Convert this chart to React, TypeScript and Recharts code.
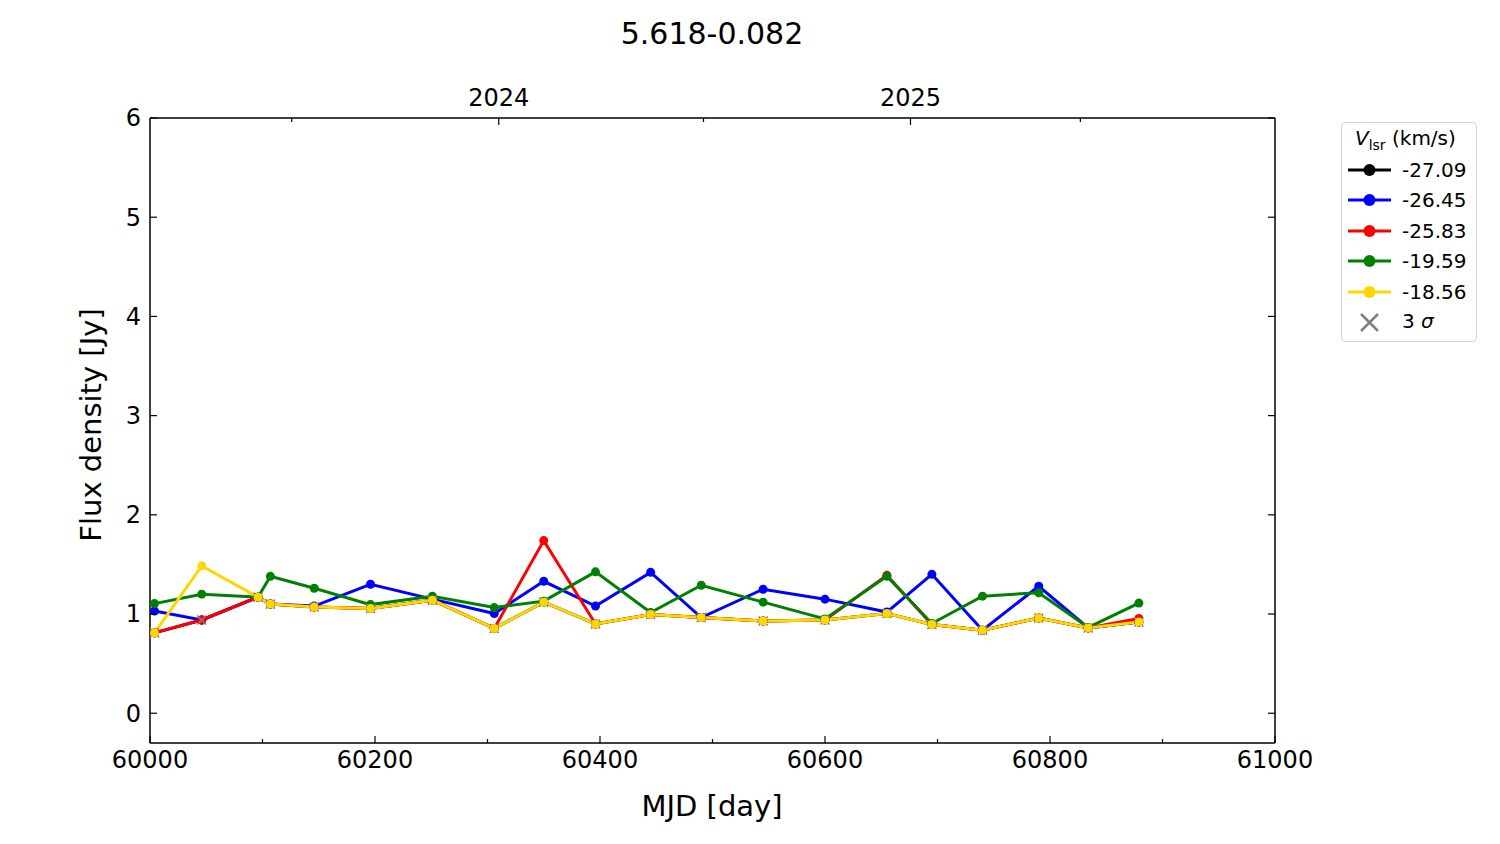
import { ComposedChart, Line, XAxis, YAxis, Legend } from 'recharts';

const FONT = '"DejaVu Sans", sans-serif';

// observation epochs (MJD)
const mjd = [60004, 60046, 60096, 60107, 60146, 60196, 60251, 60306, 60350, 60396, 60445, 60490, 60545, 60600, 60655, 60695, 60740, 60790, 60834, 60879];

// 3 sigma level per epoch
const sigma3 = [0.81, 0.94, 1.17, 1.1, 1.07, 1.055, 1.14, 0.855, 1.12, 0.9, 0.995, 0.965, 0.93, 0.94, 1.005, 0.895, 0.837, 0.96, 0.86, 0.92];

// flux density per velocity channel (Jy)
const f2709 = [0.81, 0.94, 1.17, 1.1, 1.07, 1.055, 1.14, 0.855, 1.12, 0.9, 0.995, 0.965, 0.93, 0.94, 1.005, 0.895, 0.837, 0.96, 0.86, 0.92];
const f2645 = [1.03, 0.94, 1.17, 1.1, 1.08, 1.3, 1.15, 1.005, 1.33, 1.08, 1.42, 0.965, 1.25, 1.15, 1.02, 1.4, 0.837, 1.28, 0.86, 0.92];
const f2583 = [0.81, 0.94, 1.17, 1.1, 1.07, 1.055, 1.14, 0.855, 1.74, 0.9, 0.995, 0.965, 0.93, 0.94, 1.39, 0.895, 0.837, 0.96, 0.86, 0.955];
const f1959 = [1.105, 1.2, 1.17, 1.38, 1.26, 1.095, 1.18, 1.065, 1.13, 1.425, 1.015, 1.29, 1.12, 0.95, 1.38, 0.905, 1.18, 1.215, 0.865, 1.11];
const f1856 = [0.81, 1.485, 1.17, 1.1, 1.07, 1.055, 1.14, 0.855, 1.12, 0.9, 0.995, 0.965, 0.93, 0.94, 1.005, 0.895, 0.837, 0.96, 0.86, 0.92];

const velocities = ['-27.09', '-26.45', '-25.83', '-19.59', '-18.56'];
const colors = ['#000000', '#0000ff', '#ff0000', '#008000', '#ffd700'];
const seriesKeys = ['v0', 'v1', 'v2', 'v3', 'v4'];

// axis ticks
const majorX = [60000, 60200, 60400, 60600, 60800, 61000];
const minorX = [60100, 60300, 60500, 60700, 60900];
const yearTicks = [60310, 60676];
const yearLabels = ['2024', '2025'];
const minorYearTicks = [60126, 60492, 60827];
const yTicks = [0, 1, 2, 3, 4, 5, 6];

const rows = mjd.map((m, i) => ({
  mjd: m,
  v0: f2709[i],
  v1: f2645[i],
  v2: f2583[i],
  v3: f1959[i],
  v4: f1856[i],
  lim: sigma3[i],
}));

const XMark = (props: any) => {
  const { cx, cy } = props;
  if (cx == null || cy == null) return null;
  const s = 4.5;
  return (
    <path
      d={`M${cx - s},${cy - s}L${cx + s},${cy + s}M${cx - s},${cy + s}L${cx + s},${cy - s}`}
      stroke="#808080"
      strokeWidth={1.5}
      fill="none"
    />
  );
};

const BottomTick = (props: any) => {
  const { x, y, payload } = props;
  const major = majorX.includes(payload.value);
  return (
    <g>
      <line x1={x} x2={x} y1={y} y2={y - (major ? 7 : 4)} stroke="#000" strokeWidth={1.2} />
      {major && (
        <text x={x} y={y + 25} textAnchor="middle" fontSize={24} fontFamily={FONT} fill="#000">
          {payload.value}
        </text>
      )}
    </g>
  );
};

const TopTick = (props: any) => {
  const { x, y, payload } = props;
  const idx = yearTicks.indexOf(payload.value);
  const major = idx >= 0;
  return (
    <g>
      <line x1={x} x2={x} y1={y} y2={y + (major ? 7 : 4)} stroke="#000" strokeWidth={1.2} />
      {major && (
        <text x={x} y={y - 12} textAnchor="middle" fontSize={24} fontFamily={FONT} fill="#000">
          {yearLabels[idx]}
        </text>
      )}
    </g>
  );
};

const LeftTick = (props: any) => {
  const { x, y, payload } = props;
  return (
    <g>
      <line x1={x} x2={x + 7} y1={y} y2={y} stroke="#000" strokeWidth={1.2} />
      <text x={x - 9} y={y} dy="0.35em" textAnchor="end" fontSize={24} fontFamily={FONT} fill="#000">
        {payload.value}
      </text>
    </g>
  );
};

const RightTick = (props: any) => {
  const { x, y } = props;
  return <line x1={x} x2={x - 7} y1={y} y2={y} stroke="#000" strokeWidth={1.2} />;
};

const LegendBox = () => {
  const rowY = [47, 77, 108, 138, 169];
  return (
    <div
      style={{
        width: 136,
        height: 220,
        border: '1.5px solid #d4d4d4',
        borderRadius: 4,
        background: '#fff',
        boxSizing: 'border-box',
      }}
    >
      <svg width={134} height={218} style={{ display: 'block' }}>
        <text x={13} y={22} fontSize={20} fontFamily={FONT} fill="#000">
          <tspan fontStyle="italic">V</tspan>
          <tspan fontSize={14} dy={5}>lsr</tspan>
          <tspan dy={-5}> (km/s)</tspan>
        </text>
        {velocities.map((v, i) => (
          <g key={v}>
            <line x1={6} x2={49} y1={rowY[i]} y2={rowY[i]} stroke={colors[i]} strokeWidth={3} />
            <circle cx={27.5} cy={rowY[i]} r={6} fill={colors[i]} />
            <text x={60} y={rowY[i]} dy="0.35em" fontSize={20} fontFamily={FONT} fill="#000">
              {v}
            </text>
          </g>
        ))}
        <path d="M19,191L36,208M19,208L36,191" stroke="#808080" strokeWidth={2.5} />
        <text x={60} y={198} dy="0.35em" fontSize={20} fontFamily={FONT} fill="#000">
          3 <tspan fontStyle="italic">σ</tspan>
        </text>
      </svg>
    </div>
  );
};

export default function App() {
  return (
    <div style={{ position: 'absolute', left: 0, top: 0, width: 1500, height: 844, background: '#fff' }}>
      <ComposedChart
        width={1500}
        height={844}
        data={rows}
        margin={{ top: 78, right: 215, left: 80, bottom: 41 }}
      >
        <XAxis
          dataKey="mjd"
          type="number"
          domain={[60000, 61000]}
          allowDataOverflow
          ticks={[...majorX, ...minorX].sort((a, b) => a - b)}
          interval={0}
          height={60}
          tickSize={0}
          tickMargin={0}
          tickLine={false}
          tick={<BottomTick />}
          axisLine={{ stroke: '#000', strokeWidth: 1.5 }}
        />
        <XAxis
          xAxisId="top"
          dataKey="mjd"
          orientation="top"
          type="number"
          domain={[60000, 61000]}
          allowDataOverflow
          ticks={[...minorYearTicks, ...yearTicks].sort((a, b) => a - b)}
          interval={0}
          height={40}
          tickSize={0}
          tickMargin={0}
          tickLine={false}
          tick={<TopTick />}
          axisLine={{ stroke: '#000', strokeWidth: 1.5 }}
        />
        <YAxis
          type="number"
          domain={[-0.3, 6]}
          allowDataOverflow
          ticks={yTicks}
          interval={0}
          width={70}
          tickSize={0}
          tickMargin={0}
          tickLine={false}
          tick={<LeftTick />}
          axisLine={{ stroke: '#000', strokeWidth: 1.5 }}
        />
        <YAxis
          yAxisId="right"
          orientation="right"
          type="number"
          domain={[-0.3, 6]}
          allowDataOverflow
          ticks={yTicks}
          interval={0}
          width={10}
          tickSize={0}
          tickMargin={0}
          tickLine={false}
          tick={<RightTick />}
          axisLine={{ stroke: '#000', strokeWidth: 1.5 }}
        />
        {seriesKeys.slice(0, 4).map((k, i) => (
          <Line
            key={k}
            dataKey={k}
            stroke={colors[i]}
            strokeWidth={3}
            dot={{ r: 4.5, fill: colors[i], stroke: colors[i], strokeWidth: 0 }}
            activeDot={false}
            isAnimationActive={false}
            type="linear"
          />
        ))}
        <Line
          dataKey="lim"
          stroke="none"
          dot={<XMark />}
          activeDot={false}
          isAnimationActive={false}
          legendType="none"
        />
        <Line
          dataKey="v4"
          stroke={colors[4]}
          strokeWidth={3}
          dot={{ r: 4.5, fill: colors[4], stroke: colors[4], strokeWidth: 0 }}
          activeDot={false}
          isAnimationActive={false}
          type="linear"
        />
        <Legend
          layout="vertical"
          align="center"
          verticalAlign="middle"
          content={<LegendBox />}
          wrapperStyle={{ left: 1341, top: 122, width: 136, height: 220 }}
        />
      </ComposedChart>
      <svg
        width={1500}
        height={844}
        style={{ position: 'absolute', left: 0, top: 0, pointerEvents: 'none' }}
      >
        <text x={712} y={44} textAnchor="middle" fontSize={30} fontFamily={FONT} fill="#000">
          5.618-0.082
        </text>
        <text x={712} y={816} textAnchor="middle" fontSize={29} fontFamily={FONT} fill="#000">
          MJD [day]
        </text>
        <text
          x={101}
          y={425}
          textAnchor="middle"
          fontSize={29}
          fontFamily={FONT}
          fill="#000"
          transform="rotate(-90, 101, 425)"
        >
          Flux density [Jy]
        </text>
      </svg>
    </div>
  );
}
